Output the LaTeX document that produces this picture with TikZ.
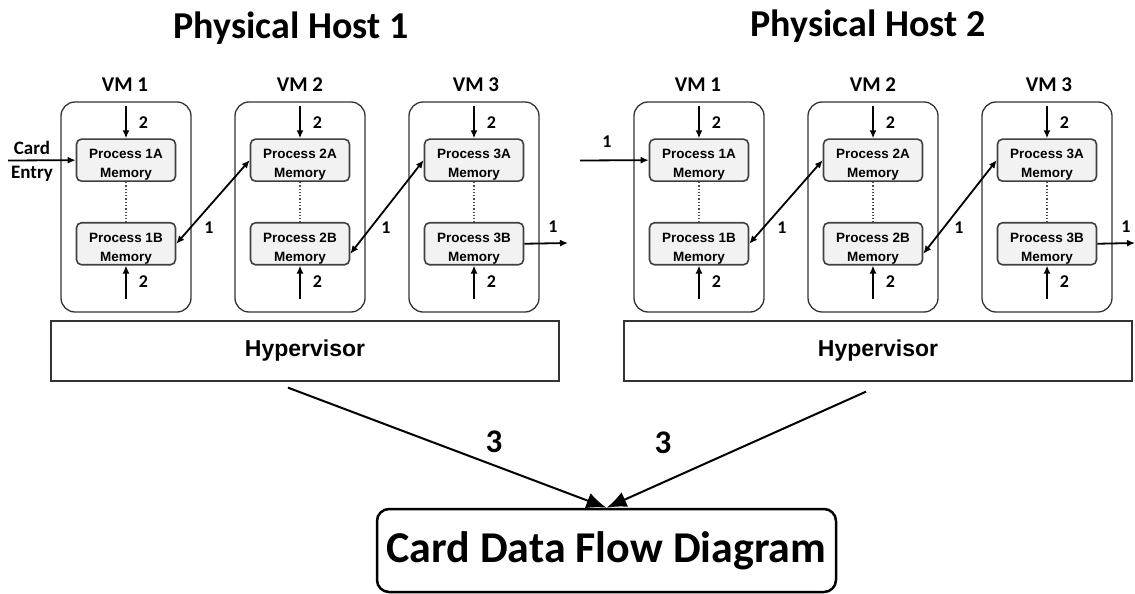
\documentclass[tikz,border=0pt]{standalone}
\usepackage{fontspec}
\usepackage{tikz}
\usetikzlibrary{positioning,arrows.meta}
\newfontfamily\carlito{Carlito}
\newfontfamily\arialfont{Liberation Sans}

\begin{document}
\begin{tikzpicture}[x=1bp, y=-1bp, node distance=40bp,
		vmbox/.style={draw=black!80, line width=1.3bp, rounded corners=14bp, minimum width=130bp, minimum height=210bp},
		procbox/.style={draw=black!75, fill=black!5, line width=1.6bp, rounded corners=5bp, minimum width=99bp, minimum height=42bp, inner sep=0pt, align=center, font=\arialfont\bfseries\fontsize{13.5bp}{19bp}\selectfont, text height=38bp, text depth=3bp},
		hypbox/.style={draw=black!80, line width=1.3bp, minimum width=508bp, minimum height=60bp, font=\arialfont\bfseries\fontsize{23bp}{27bp}\selectfont},
		flowbox/.style={draw, line width=2.5bp, rounded corners=12bp, minimum width=459bp, minimum height=83bp, font=\carlito\bfseries\fontsize{44bp}{50bp}\selectfont},
		title/.style={anchor=base, font=\carlito\bfseries\fontsize{38bp}{44bp}\selectfont},
		vmlabel/.style={anchor=base, font=\carlito\bfseries\fontsize{21bp}{25bp}\selectfont},
		num/.style={inner sep=0pt, font=\carlito\bfseries\fontsize{18bp}{22bp}\selectfont},
		bignum/.style={inner sep=0pt, font=\carlito\bfseries\fontsize{33bp}{38bp}\selectfont},
		arr/.style={-{Latex[length=8bp,width=7bp]}, line width=1.8bp},
		dbl/.style={{Latex[length=8bp,width=7bp]}-{Latex[length=8bp,width=7bp]}, line width=1.8bp},
		bigarr/.style={-{Latex[length=20bp,width=16bp]}, line width=2bp},
		dots/.style={dotted, line width=1.3bp, black!70}]
		\useasboundingbox (0,0) rectangle (1135,594);
		
		% Physical Host 1
		\node[title] (host1) at (291,38.6) {Physical Host 1};
		\node[vmbox] (vm1) at (126,207) {};
		\node[vmbox] (vm2) at (300,207) {};
		\node[vmbox] (vm3) at (474,207) {};
		\node[vmlabel] (vm1lbl) at (125,92) {VM 1};
		\node[vmlabel] (vm2lbl) at (300,92) {VM 2};
		\node[vmlabel] (vm3lbl) at (476,92) {VM 3};
		\node[procbox, below=37bp of vm1.north] (p1a) {Process 1A\\Memory};
		\node[procbox, below=of p1a] (p1b) {Process 1B\\Memory};
		\node[procbox, below=37bp of vm2.north] (p2a) {Process 2A\\Memory};
		\node[procbox, below=of p2a] (p2b) {Process 2B\\Memory};
		\node[procbox, below=37bp of vm3.north] (p3a) {Process 3A\\Memory};
		\node[procbox, below=of p3a] (p3b) {Process 3B\\Memory};
		\node[hypbox] (hyp1) at (305,351) {Hypervisor};
		\node[align=center, font=\carlito\bfseries\fontsize{19bp}{24bp}\selectfont] (entry) at (32,161) {Card\\Entry};
		\coordinate (in1) at (8,160.5);
		\coordinate (out1) at (568,243);
		
		\draw[dots] (p1a) -- (p1b);
		\draw[dots] (p2a) -- (p2b);
		\draw[dots] (p3a) -- (p3b);
		\draw[arr] ([yshift=32bp]p1a.north) -- node[num, right=12bp] {2} (p1a.north);
		\draw[arr] ([yshift=32bp]p2a.north) -- node[num, right=12bp] {2} (p2a.north);
		\draw[arr] ([yshift=32bp]p3a.north) -- node[num, right=12bp] {2} (p3a.north);
		\draw[arr] ([yshift=-33bp]p1b.south) -- node[num, right=12bp] {2} (p1b.south);
		\draw[arr] ([yshift=-33bp]p2b.south) -- node[num, right=12bp] {2} (p2b.south);
		\draw[arr] ([yshift=-33bp]p3b.south) -- node[num, right=12bp] {2} (p3b.south);
		\draw[arr] (in1) -- (p1a.west);
		\draw[dbl] (p1b.east) -- (p2a.west);
		\draw[dbl] ([yshift=-10bp]p2b.east) -- (p3a.west);
		\draw[arr] (p3b.east) -- (out1);
		\node[num] (c1) at (209,228) {1};
		\node[num] (c2) at (386,228) {1};
		\node[num] (c3) at (553,227) {1};
		
		% Physical Host 2
		\node[title] (host2) at (868,37) {Physical Host 2};
		\node[vmbox] (vm4) at (699,207) {};
		\node[vmbox] (vm5) at (873,207) {};
		\node[vmbox] (vm6) at (1047,207) {};
		\node[vmlabel] (vm4lbl) at (698,92) {VM 1};
		\node[vmlabel] (vm5lbl) at (873,92) {VM 2};
		\node[vmlabel] (vm6lbl) at (1049,92) {VM 3};
		\node[procbox, below=37bp of vm4.north] (p4a) {Process 1A\\Memory};
		\node[procbox, below=of p4a] (p4b) {Process 1B\\Memory};
		\node[procbox, below=37bp of vm5.north] (p5a) {Process 2A\\Memory};
		\node[procbox, below=of p5a] (p5b) {Process 2B\\Memory};
		\node[procbox, below=37bp of vm6.north] (p6a) {Process 3A\\Memory};
		\node[procbox, below=of p6a] (p6b) {Process 3B\\Memory};
		\node[hypbox] (hyp2) at (878,351) {Hypervisor};
		\coordinate (in2) at (580,160.5);
		\coordinate (out2) at (1135,243);
		
		\draw[dots] (p4a) -- (p4b);
		\draw[dots] (p5a) -- (p5b);
		\draw[dots] (p6a) -- (p6b);
		\draw[arr] ([yshift=32bp]p4a.north) -- node[num, right=12bp] {2} (p4a.north);
		\draw[arr] ([yshift=32bp]p5a.north) -- node[num, right=12bp] {2} (p5a.north);
		\draw[arr] ([yshift=32bp]p6a.north) -- node[num, right=12bp] {2} (p6a.north);
		\draw[arr] ([yshift=-33bp]p4b.south) -- node[num, right=12bp] {2} (p4b.south);
		\draw[arr] ([yshift=-33bp]p5b.south) -- node[num, right=12bp] {2} (p5b.south);
		\draw[arr] ([yshift=-33bp]p6b.south) -- node[num, right=12bp] {2} (p6b.south);
		\draw[arr] (in2) -- (p4a.west);
		\draw[dbl] (p4b.east) -- (p5a.west);
		\draw[dbl] ([yshift=-10bp]p5b.east) -- (p6a.west);
		\draw[arr] (p6b.east) -- (out2);
		\node[num] (c4) at (607,142) {1};
		\node[num] (c5) at (782,228) {1};
		\node[num] (c6) at (959,228) {1};
		\node[num] (c7) at (1126,227) {1};
		
		% card data flow
		\node[flowbox] (flow) at (606.5,550.5) {Card Data Flow Diagram};
		\draw[bigarr] ([xshift=-17bp, yshift=-6bp]hyp1.south) -- (flow.north);
		\draw[bigarr] ([xshift=-12bp, yshift=-10bp]hyp2.south) -- (flow.north);
		\node[bignum] (n1) at (494,442) {3};
		\node[bignum] (n2) at (663,443) {3};
	\end{tikzpicture}
\end{document}
